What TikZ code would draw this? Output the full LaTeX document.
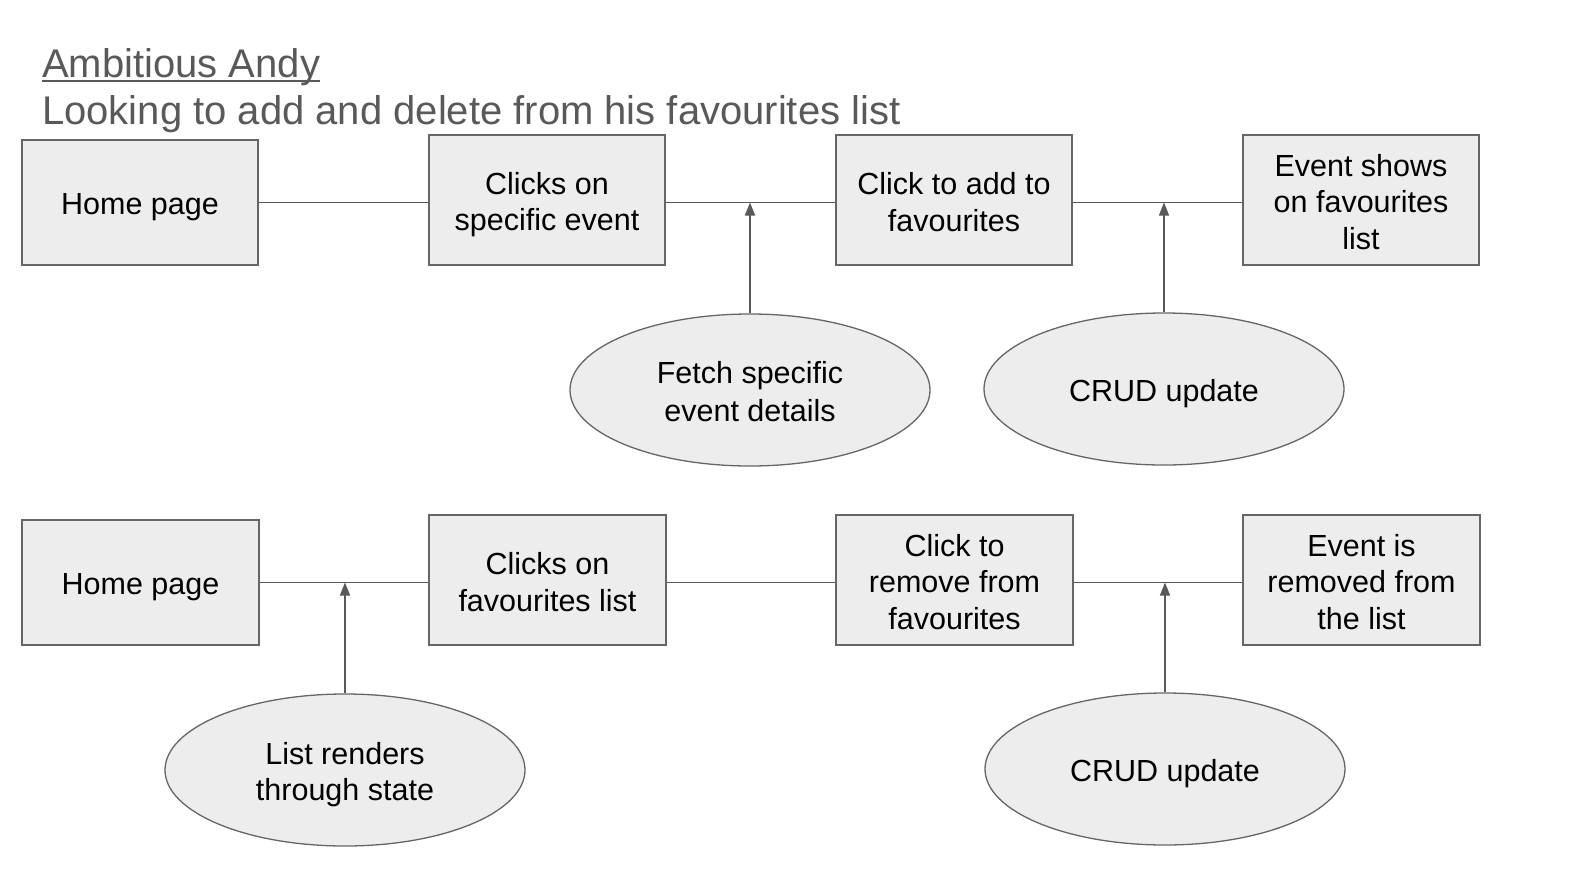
\documentclass[tikz,border=0pt]{standalone}
\usepackage{fontspec}
\setmainfont{Liberation Sans}
\usetikzlibrary{shapes.geometric,arrows.meta}
\definecolor{boxfill}{HTML}{EDEDED}
\definecolor{edge}{HTML}{666666}
\definecolor{linec}{HTML}{595959}
\definecolor{titlec}{HTML}{595959}
\newsavebox{\lsbox}
\sbox{\lsbox}{}
\ht\lsbox=31.05bp
\dp\lsbox=5.45bp
\newcommand{\ls}{\usebox{\lsbox}}
\begin{document}
\begin{tikzpicture}[x=1bp,y=1bp,
  stepbox/.style={draw=edge,line width=1.6bp,fill=boxfill,inner sep=0pt,
    minimum width=236bp,minimum height=130bp,align=center,
    font=\fontsize{30.5bp}{36.5bp}\selectfont},
  bubble/.style={ellipse,draw=edge,line width=1.3bp,fill=boxfill,inner sep=0pt,
    minimum width=360bp,minimum height=152bp,align=center,
    font=\fontsize{30.5bp}{36.5bp}\selectfont},
  link/.style={draw=linec,line width=1.6bp},
  feed/.style={draw=linec,line width=1.6bp,-{Triangle[length=13bp,width=10bp]}},
  titletext/.style={inner sep=0pt,anchor=base west,text=titlec,font=\fontsize{40bp}{47bp}\selectfont}
]
\useasboundingbox[fill=white] (0,0) rectangle (1572,-882);

\node[titletext] (t1) at (42,-77) {Ambitious Andy};
\draw[titlec,line width=2bp] ([yshift=-4bp]t1.base west) -- ([yshift=-4bp]t1.base east);
\node[titletext] (t2) at (42,-124) {Looking to add and delete from his favourites list};

% row 1
\node[stepbox,minimum height=125bp] (b11) at (140,-202.5) {\ls Home page\ls};
\node[stepbox] (b12) at (547,-200) {\ls Clicks on\\specific event\ls};
\node[stepbox] (b13) at (954,-200) {\ls Click to add to\\favourites\ls};
\node[stepbox] (b14) at (1361,-200) {\ls Event shows\\on favourites\\list\ls};

\node[bubble] (e1) at (750,-390) {\ls Fetch specific\\event details\ls};
\node[bubble] (e2) at (1164,-389) {\ls CRUD update\ls};

\draw[link] (b11.east) -- (b11.east -| b12.west);
\draw[link] (b11.east -| b12.east) -- (b11.east -| b13.west);
\draw[link] (b11.east -| b13.east) -- (b11.east -| b14.west);
\coordinate (j1) at (e1.north |- b11.east);
\coordinate (j2) at (e2.north |- b11.east);
\draw[feed] (e1.north) -- (j1);
\draw[feed] (e2.north) -- (j2);

% row 2
\node[stepbox,minimum width=237bp,minimum height=125bp] (b21) at (140.5,-582.5) {\ls Home page\ls};
\node[stepbox,minimum width=237bp] (b22) at (547.5,-580) {\ls Clicks on\\favourites list\ls};
\node[stepbox,minimum width=237bp] (b23) at (954.5,-580) {\ls Click to\\remove from\\favourites\ls};
\node[stepbox,minimum width=237bp] (b24) at (1361.5,-580) {\ls Event is\\removed from\\the list\ls};

\node[bubble] (e3) at (345,-770) {\ls List renders\\through state\ls};
\node[bubble] (e4) at (1165,-769) {\ls CRUD update\ls};

\draw[link] (b21.east) -- (b21.east -| b22.west);
\draw[link] (b21.east -| b22.east) -- (b21.east -| b23.west);
\draw[link] (b21.east -| b23.east) -- (b21.east -| b24.west);
\coordinate (j3) at (e3.north |- b21.east);
\coordinate (j4) at (e4.north |- b21.east);
\draw[feed] (e3.north) -- (j3);
\draw[feed] (e4.north) -- (j4);
\end{tikzpicture}
\end{document}
